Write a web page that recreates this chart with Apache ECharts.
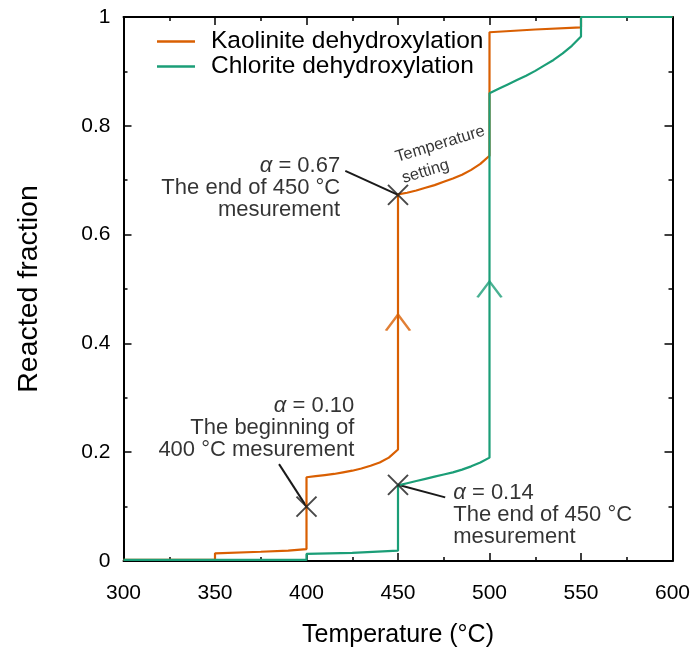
<!DOCTYPE html>
<html>
<head>
<meta charset="utf-8">
<script src="https://cdn.jsdelivr.net/npm/echarts@6/dist/echarts.min.js"></script>
<style>
  html, body { margin: 0; padding: 0; background: #fff; }
  #chart { width: 697px; height: 653px; }
</style>
</head>
<body>
<div id="chart"></div>
<script>
(function () {
  'use strict';

  const FONT = '"Liberation Sans", Arial, sans-serif';
  const ORANGE = '#d95f02';
  const GREEN = '#1b9e77';
  const INK = '#000';

  // Kaolinite dehydroxylation (step heating)
  const KAOLINITE_T = [300, 350, 350, 375, 390, 400,
    400, 405, 410, 415, 420, 425, 430, 435, 440, 445, 450,
    450, 455, 460, 465, 470, 475, 480, 485, 490, 495, 500,
    500, 525, 550, 550, 600];
  const KAOLINITE_ALPHA = [0.002, 0.002, 0.014, 0.017, 0.019, 0.022,
    0.154, 0.156, 0.158, 0.160, 0.163, 0.166, 0.170, 0.175, 0.181, 0.190, 0.205,
    0.674, 0.677, 0.681, 0.686, 0.691, 0.697, 0.703, 0.710, 0.719, 0.730, 0.745,
    0.972, 0.977, 0.981, 1.0, 1.0];

  // Chlorite dehydroxylation
  const CHLORITE_T = [300, 400, 400, 425, 450,
    450, 455, 460, 465, 470, 475, 480, 485, 490, 495, 500,
    500, 505, 510, 515, 520, 525, 530, 535, 540, 545, 550,
    550, 600];
  const CHLORITE_ALPHA = [0.002, 0.002, 0.013, 0.015, 0.019,
    0.139, 0.143, 0.147, 0.151, 0.155, 0.159, 0.163, 0.168, 0.174, 0.181, 0.190,
    0.860, 0.868, 0.876, 0.884, 0.892, 0.901, 0.911, 0.921, 0.933, 0.947, 0.964,
    1.0, 1.0];

  // marked points (x crosses)
  const MARK_T = [400, 450, 450];
  const MARK_ALPHA = [0.10, 0.673, 0.14];

  // direction chevrons on the jumps
  const ARROW_T = [450, 500];
  const ARROW_ALPHA = [0.453, 0.514];

  const X_TICKS = [300, 350, 400, 450, 500, 550, 600];

  function pairs(xs, ys) {
    return xs.map(function (x, i) { return [x, ys[i]]; });
  }

  // annotation placement (data coords)
  const NOTES = [
    { at: [418.4, 0.686], align: 'right', text: '{i|α} = 0.67\nThe end of 450 °C\nmesurement', leader: [[421.2, 0.717], [450, 0.673]] },
    { at: [426.1, 0.244], align: 'right', text: '{i|α} = 0.10\nThe beginning of\n400 °C mesurement', leader: [[385.0, 0.178], [400, 0.10]] },
    { at: [480.2, 0.0844], align: 'left', text: '{i|α} = 0.14\nThe end of 450 °C\nmesurement', leader: [[475.8, 0.117], [450, 0.14]] }
  ];

  const noteLabel = {
    fontFamily: FONT, fontSize: 22, lineHeight: 22, color: INK,
    rich: { i: { fontFamily: FONT, fontSize: 22, lineHeight: 22, fontStyle: 'italic', color: INK } }
  };

  const series = [];

  NOTES.forEach(function (n) {
    series.push({
      type: 'line', data: n.leader, symbol: 'none', silent: true,
      lineStyle: { color: '#1a1a1a', width: 2 }, z: 3
    });
    series.push({
      type: 'scatter', data: [n.at], symbolSize: 1, silent: true,
      itemStyle: { color: 'transparent' },
      label: Object.assign({ show: true, position: 'inside', align: n.align, verticalAlign: 'middle',
        formatter: n.text }, noteLabel),
      z: 6
    });
  });

  series.push({
    name: 'Kaolinite dehydroxylation', type: 'line', data: pairs(KAOLINITE_T, KAOLINITE_ALPHA),
    symbol: 'none', lineStyle: { color: ORANGE, width: 2.2 }, itemStyle: { color: ORANGE }, z: 4
  });
  series.push({
    name: 'Chlorite dehydroxylation', type: 'line', data: pairs(CHLORITE_T, CHLORITE_ALPHA),
    symbol: 'none', lineStyle: { color: GREEN, width: 2.2 }, itemStyle: { color: GREEN }, z: 4
  });

  [ORANGE, GREEN].forEach(function (c, i) {
    series.push({
      type: 'scatter', data: [[ARROW_T[i], ARROW_ALPHA[i]]], silent: true,
      symbol: 'path://M0,16L12,0L24,16', symbolSize: [24, 16], symbolOffset: [0, 8],
      itemStyle: { color: 'none', borderColor: c, borderWidth: 2.2 }, z: 5
    });
  });

  series.push({
    type: 'scatter', data: pairs(MARK_T, MARK_ALPHA), silent: true,
    symbol: 'path://M0,0L20,20M20,0L0,20', symbolSize: 20,
    itemStyle: { color: 'none', borderColor: '#1a1a1a', borderWidth: 2 }, z: 7
  });

  // "Temperature setting" note along the 450-500 kaolinite curve
  series.push({
    type: 'scatter', data: [[450.6, 0.722]], symbolSize: 1, silent: true,
    itemStyle: { color: 'transparent' },
    label: { show: true, position: 'inside', align: 'left', verticalAlign: 'middle', rotate: 17,
      formatter: 'Temperature\nsetting', fontFamily: FONT, fontSize: 16.5, lineHeight: 22, color: INK },
    z: 6
  });

  const axisLine = { show: true, onZero: false, lineStyle: { color: '#000', width: 2 } };
  const tick = { show: true, inside: true, length: 8, lineStyle: { color: '#000', width: 1.5 } };
  const minor = { show: true, splitNumber: 2, length: 4, lineStyle: { color: '#000', width: 1.5 } };

  const option = {
    backgroundColor: '#fff',
    animation: false,
    grid: { left: 123.5, right: 24.5, top: 17, bottom: 91 },
    legend: {
      left: 152, top: 24, orient: 'vertical', itemWidth: 38, itemHeight: 2.5, itemGap: 0,
      icon: 'rect',
      data: ['Kaolinite dehydroxylation', 'Chlorite dehydroxylation'],
      textStyle: { fontFamily: FONT, fontSize: 24.5, lineHeight: 24, color: INK, padding: [0, 0, 0, 11] }
    },
    xAxis: [{
      type: 'value', min: 300, max: 600, interval: 50,
      name: 'Temperature (°C)', nameLocation: 'middle', nameGap: 62,
      nameTextStyle: { fontFamily: FONT, fontSize: 25, color: INK },
      axisLine: axisLine, axisTick: tick, minorTick: minor,
      axisLabel: { fontFamily: FONT, fontSize: 21, color: INK, margin: 22,
        formatter: function (v) { return X_TICKS.indexOf(v) >= 0 ? String(v) : ''; } },
      splitLine: { show: false }
    }, {
      type: 'value', min: 300, max: 600, interval: 50, position: 'top',
      axisLine: axisLine, axisTick: tick, minorTick: minor,
      axisLabel: { show: false }, splitLine: { show: false }
    }],
    yAxis: [{
      type: 'value', min: 0, max: 1, interval: 0.2,
      name: 'Reacted fraction', nameLocation: 'middle', nameGap: 80,
      nameTextStyle: { fontFamily: FONT, fontSize: 28.5, color: INK },
      axisLine: axisLine, axisTick: tick, minorTick: minor,
      axisLabel: { fontFamily: FONT, fontSize: 21, color: INK, margin: 13 },
      splitLine: { show: false }
    }, {
      type: 'value', min: 0, max: 1, interval: 0.2, position: 'right',
      axisLine: axisLine, axisTick: tick, minorTick: minor,
      axisLabel: { show: false }, splitLine: { show: false }
    }],
    series: series
  };

  const chart = echarts.init(document.getElementById('chart'), null, { renderer: 'canvas' });
  chart.setOption(option);
})();
</script>
</body>
</html>
